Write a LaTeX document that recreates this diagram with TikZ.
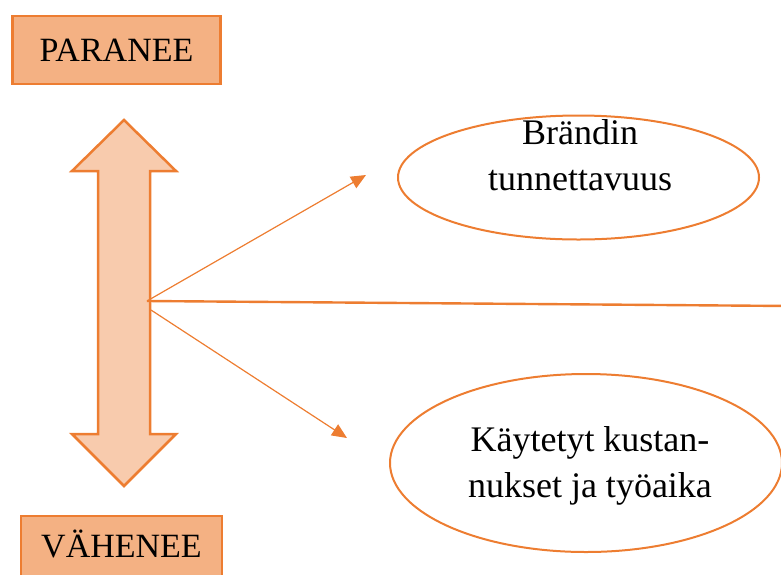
\documentclass[tikz,border=0pt]{standalone}
\usepackage{fontspec}
\setmainfont{Liberation Serif}
\usetikzlibrary{arrows.meta, shapes.geometric}

\definecolor{darkorange}{HTML}{ED7D31}
\definecolor{boxorange}{HTML}{F4B183}
\definecolor{paleorange}{HTML}{F8CBAD}

\tikzset{
    change/.style={draw=darkorange, fill=boxorange, line width=2.2pt, minimum width=208pt, minimum height=68pt, inner sep=0pt, font=\fontsize{34}{46}\selectfont},
    topic/.style={ellipse, draw=darkorange, line width=2pt, inner sep=0pt},
    caption/.style={align=center, inner sep=0pt, font=\fontsize{36}{46}\selectfont},
    link/.style={darkorange, line width=1.2pt, -{Triangle[length=15pt,width=13pt]}}
}

\begin{document}
\begin{tikzpicture}[x=1pt,y=-1pt]
        \useasboundingbox (0,0) rectangle (781,574);

        \node[change] (paranee) at (116.5,50) {PARANEE};
        \node[change, minimum width=201pt, minimum height=70pt, anchor=north, text height=24pt, text depth=12pt] (vahenee) at (121.5,515) {VÄHENEE};

        % double arrow
        \filldraw[fill=paleorange, draw=darkorange, line width=2.5pt, line join=miter]
            (124,120) -- (176,171) -- (150,171) -- (150,434) -- (176,434) -- (124,486)
            -- (72,434) -- (98,434) -- (98,171) -- (72,171) -- cycle;

        \node[topic, minimum width=361pt, minimum height=124pt] (brand) at (578.5,177.5) {};
        \node[caption] (brandtext) at (580,155) {Brändin\\tunnettavuus};
        \node[topic, minimum width=392pt, minimum height=178pt] (costs) at (586,463) {};
        \node[caption] (coststext) at (590,466) {Käytetyt kustan-\\nukset ja työaika};

        \coordinate (hub) at (147,301);
        \coordinate (hublow) at (151,310);
        \coordinate (a) at (366,175);
        \coordinate (b) at (347,438);
        \coordinate (c) at (790,306);

        \draw[link] (hub) -- (a);
        \draw[link] (hublow) -- (b);
        \draw[darkorange, line width=2.4pt] (hub) -- (c);

    \end{tikzpicture}
\end{document}
